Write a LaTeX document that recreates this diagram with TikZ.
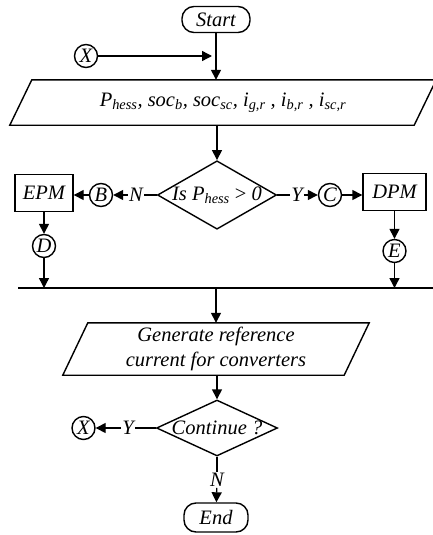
\documentclass[tikz,border=0pt]{standalone}
\usepackage{fontspec}
\setmainfont{Liberation Serif}
\usetikzlibrary{shapes.geometric,arrows.meta,positioning}

\tikzset{
  flow/.style={line width=1.4pt},
  pfeil/.style={flow,-{Triangle[length=10pt,width=10pt]}},
  schrift/.style={font=\fontsize{20.5}{24.5}\selectfont\itshape},
  term/.style={schrift,draw,flow,rounded corners=12pt,minimum width=68pt,minimum height=26pt,inner sep=0pt},
  block/.style={schrift,draw,flow,minimum height=37pt,inner sep=0pt},
  raute/.style={schrift,draw,flow,diamond,inner sep=0pt},
  verbinder/.style={schrift,draw,flow,circle,minimum size=23pt,inner sep=0pt},
  marke/.style={schrift,inner sep=1pt},
}

\begin{document}
\begin{tikzpicture}[x=1pt,y=-1pt]
\useasboundingbox (0,0) rectangle (432,535);

%Start
\node[term] (start) at (216,19.5) {Start};
\node[verbinder] (xa) at (86,56) {X};

%Eingabe der Messwerte
\node[schrift,minimum width=404pt,minimum height=45pt,inner sep=0pt] (eingabe) at (223,102.5)
  {P\textsubscript{hess}, soc\textsubscript{b}, soc\textsubscript{sc}, i\textsubscript{g,r} , i\textsubscript{b,r} , i\textsubscript{sc,r}};
\draw[flow] ([xshift=11pt]eingabe.north west) -- ([xshift=11pt]eingabe.north east)
  -- ([xshift=-11pt]eingabe.south east) -- ([xshift=-11pt]eingabe.south west) -- cycle;

%Abfrage P_hess
\node[raute,aspect=1.74,minimum width=115pt,minimum height=66pt] (abfrage) at (217,195) {Is P\textsubscript{hess} {\upshape >} 0};
\node[marke] (nein) at (136,195) {N};
\node[verbinder] (b) at (101,195) {B};
\node[block,minimum width=58pt] (epm) at (44,193) {EPM};
\node[marke] (ja) at (297,195) {Y};
\node[verbinder] (c) at (330,195) {C};
\node[block,minimum width=63pt] (dpm) at (394.5,192) {DPM};
\node[verbinder] (d) at (44,246) {D};
\node[verbinder] (e) at (394.5,251) {E};

%Sammelleitung
\coordinate (busl) at (18,288);
\coordinate (busr) at (440,288);

%Referenzstrom
\node[schrift,align=center,minimum width=281pt,minimum height=52pt,inner sep=0pt] (gen) at (216,349)
  {Generate reference\\current for converters};
\draw[flow] ([xshift=12.5pt]gen.north west) -- ([xshift=12.5pt]gen.north east)
  -- ([xshift=-12.5pt]gen.south east) -- ([xshift=-12.5pt]gen.south west) -- cycle;

%Abfrage Weiter
\node[raute,aspect=2.16,minimum width=121pt,minimum height=56pt] (weiter) at (217,428) {Continue ?};
\node[marke] (ja2) at (128,428) {Y};
\node[verbinder] (xb) at (83.5,428) {X};
\node[marke] (nein2) at (217,480) {N};
\node[term,minimum width=64pt,minimum height=29pt] (ende) at (216,517.5) {End};

%Verbindungen
\draw[pfeil] (start) -- (start |- eingabe.north);
\draw[pfeil,shorten >=4pt] (xa) -- (xa -| start.south);
\draw[pfeil] (eingabe.south -| abfrage.north) -- (abfrage.north);
\draw[flow] (abfrage.west) -- (nein);
\draw[pfeil] (nein) -- (b);
\draw[pfeil] (b) -- (b -| epm.east);
\draw[flow] (abfrage.east) -- (ja);
\draw[pfeil] (ja) -- (c);
\draw[pfeil] (c) -- (c -| dpm.west);
\draw[pfeil] (epm) -- (d);
\draw[pfeil] (d) -- (d |- busl);
\draw[pfeil] (dpm) -- (e);
\draw[pfeil] (e) -- (e |- busl);
\draw[flow] (busl) -- (busr);
\draw[pfeil] (gen.north |- busl) -- (gen.north);
\draw[pfeil] (gen.south -| weiter.north) -- (weiter.north);
\draw[flow] (weiter.west) -- (ja2);
\draw[pfeil] (ja2) -- (xb);
\draw[flow] (weiter.south) -- (nein2);
\draw[pfeil] (nein2) -- (ende);

\end{tikzpicture}
\end{document}
